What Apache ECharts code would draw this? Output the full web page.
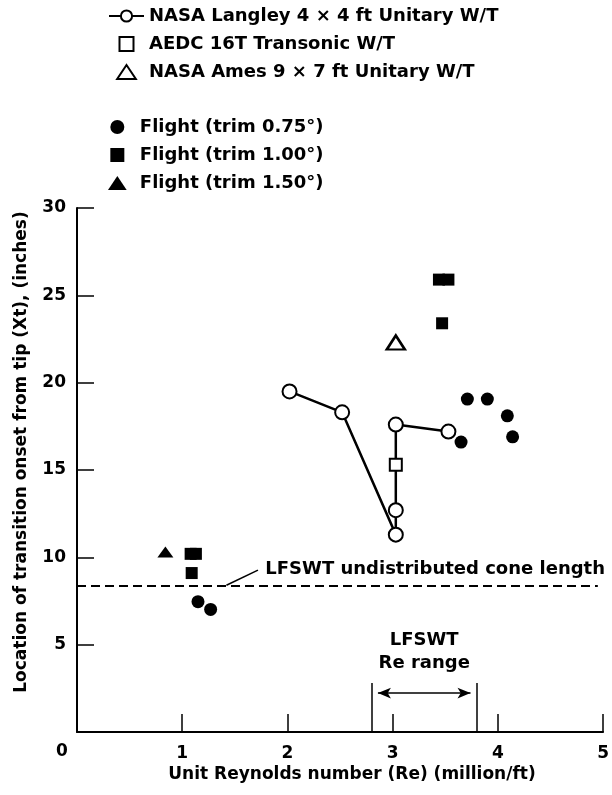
<!DOCTYPE html>
<html>
<head>
<meta charset="utf-8">
<script src="https://cdn.jsdelivr.net/npm/echarts@6/dist/echarts.min.js"></script>
<style>
  html, body { margin: 0; padding: 0; background: #fff; }
  #chart { width: 612px; height: 795px; }
</style>
</head>
<body>
<div id="chart"></div>
<script>
// data: [Re (million/ft), Xt (inches)]
const langley = [[2.02, 19.5], [2.52, 18.3], [3.03, 11.3], [3.03, 12.7], [3.03, 17.6], [3.53, 17.2]];
const aedc = [[3.03, 15.3]];
const ames = [[3.03, 22.3]];
const flight075 = [[3.71, 19.06], [3.90, 19.06], [4.09, 18.1], [4.14, 16.9], [3.65, 16.6], [1.15, 7.46], [1.27, 7.02]];
const flight100 = [[3.44, 25.9], [3.53, 25.9], [3.47, 23.4], [1.08, 10.2], [1.13, 10.2], [1.09, 9.1]];
const flight150 = [[0.84, 10.3]];

const coneLength = 8.4;      // LFSWT undistributed cone length
const coneLineEnd = 4.95;
const reRange = [2.8, 3.8];  // LFSWT Re range
const reRangeTop = 2.8;
const reArrowY = 2.23;

const xTicks = [0, 1, 2, 3, 4, 5];
const yTicks = [0, 5, 10, 15, 20, 25, 30];

const names = {
  langley: 'NASA Langley 4 \u00d7 4 ft Unitary W/T',
  aedc: 'AEDC 16T Transonic W/T',
  ames: 'NASA Ames 9 \u00d7 7 ft Unitary W/T',
  f075: 'Flight (trim 0.75\u00b0)',
  f100: 'Flight (trim 1.00\u00b0)',
  f150: 'Flight (trim 1.50\u00b0)'
};

const FONT = 'DejaVu Sans';
const black = '#000';

const squarePath = 'path://M0,0L10,0L10,10L0,10Z';
const trianglePath = 'path://M6,0L12,9L0,9Z';

const chart = echarts.init(document.getElementById('chart'));

const legendText = { fontFamily: FONT, fontWeight: 'bold', fontSize: 18, color: black, lineHeight: 20 };

const option = {
  animation: false,
  backgroundColor: '#fff',
  grid: { left: 77, right: 4, top: 208, bottom: 63, containLabel: false },
  legend: [
    {
      orient: 'vertical', left: 108, top: 6, padding: 0, itemWidth: 35, itemHeight: 14, itemGap: 8,
      selectedMode: false, textStyle: legendText,
      data: [
        { name: names.langley },
        { name: names.aedc, icon: squarePath, itemStyle: { color: '#fff', borderColor: black, borderWidth: 2 } },
        { name: names.ames, icon: trianglePath, itemStyle: { color: '#fff', borderColor: black, borderWidth: 2 } }
      ]
    },
    {
      orient: 'vertical', left: 108, top: 117, padding: 0, itemWidth: 35, itemHeight: 14, itemGap: 8,
      selectedMode: false, textStyle: legendText,
      data: [
        { name: names.f075, icon: 'circle', itemStyle: { color: black, borderWidth: 0 } },
        { name: names.f100, icon: squarePath, itemStyle: { color: black, borderWidth: 0 } },
        { name: names.f150, icon: trianglePath, itemStyle: { color: black, borderWidth: 0 } }
      ]
    }
  ],
  xAxis: {
    type: 'value', min: xTicks[0], max: xTicks[xTicks.length - 1], interval: 1,
    axisLine: { lineStyle: { color: black, width: 2 } },
    axisTick: { inside: true, length: 18, lineStyle: { color: black, width: 1.5 } },
    splitLine: { show: false },
    axisLabel: {
      margin: 13, color: black, fontFamily: FONT, fontWeight: 'bold', fontSize: 17,
      formatter: v => (v === 0 ? '' : String(v))
    }
  },
  yAxis: {
    type: 'value', min: yTicks[0], max: yTicks[yTicks.length - 1], interval: 5,
    axisLine: { lineStyle: { color: black, width: 2 } },
    axisTick: { inside: true, length: 17, lineStyle: { color: black, width: 1.5 } },
    splitLine: { show: false },
    axisLabel: {
      margin: 11, color: black, fontFamily: FONT, fontWeight: 'bold', fontSize: 17,
      formatter: v => (v === 0 ? '' : String(v))
    }
  },
  graphic: [
    { type: 'text', x: 62, y: 752, silent: true,
      style: { text: '0', fill: black, font: 'bold 17px "DejaVu Sans"', align: 'center', verticalAlign: 'middle' } },
    { type: 'text', x: 22, y: 452, rotation: Math.PI / 2, silent: true,
      style: { text: 'Location of transition onset from tip (Xt), (inches)', fill: black,
               font: 'bold 17px "DejaVu Sans"', align: 'center', verticalAlign: 'middle' } },
    { type: 'text', x: 352, y: 775, silent: true,
      style: { text: 'Unit Reynolds number (Re) (million/ft)', fill: black,
               font: 'bold 17px "DejaVu Sans"', align: 'center', verticalAlign: 'middle' } }
  ],
  series: [
    {
      name: 'notes', type: 'scatter', symbolSize: 0, silent: true, z: 1,
      itemStyle: { opacity: 1 },
      label: { show: true, color: black, fontFamily: FONT, fontWeight: 'bold', fontSize: 18,
               textBorderWidth: 0, formatter: '{b}' },
      data: [
        { name: 'LFSWT undistributed cone length', value: [1.79, 9.3], label: { position: 'right', distance: 0 } },
        { name: 'LFSWT', value: [3.3, 5.27], label: { position: 'inside' } },
        { name: 'Re range', value: [3.3, 3.95], label: { position: 'inside' } }
      ],
      markLine: {
        silent: true, animation: false, symbol: 'none',
        label: { show: false },
        lineStyle: { color: black, width: 1.5, type: 'solid', opacity: 1 },
        emphasis: { disabled: true },
        data: [
          [{ coord: [0, coneLength], lineStyle: { type: [9, 5], width: 2 } }, { coord: [coneLineEnd, coneLength] }],
          [{ coord: [1.42, coneLength] }, { coord: [1.72, 9.27] }],
          [{ coord: [reRange[0], 0] }, { coord: [reRange[0], reRangeTop] }],
          [{ coord: [reRange[1], 0] }, { coord: [reRange[1], reRangeTop] }],
          [{ coord: [reRange[0] + 0.06, reArrowY], symbol: 'arrow', symbolSize: [8, 13] },
           { coord: [reRange[1] - 0.06, reArrowY], symbol: 'arrow', symbolSize: [8, 13] }]
        ]
      }
    },
    {
      name: names.langley, type: 'line', data: langley, z: 3,
      symbol: 'circle', symbolSize: 14, showSymbol: true,
      lineStyle: { color: black, width: 2.5 },
      itemStyle: { color: '#fff', borderColor: black, borderWidth: 2 },
      emphasis: { disabled: true }
    },
    {
      name: names.aedc, type: 'scatter', data: aedc, z: 4,
      symbol: 'rect', symbolSize: 12,
      itemStyle: { color: '#fff', borderColor: black, borderWidth: 2, opacity: 1 },
      emphasis: { disabled: true }
    },
    {
      name: names.ames, type: 'scatter', data: ames, z: 4,
      symbol: 'triangle', symbolSize: [18, 14],
      itemStyle: { color: '#fff', borderColor: black, borderWidth: 2.5, opacity: 1 },
      emphasis: { disabled: true }
    },
    {
      name: names.f075, type: 'scatter', data: flight075, z: 4,
      symbol: 'circle', symbolSize: 13,
      itemStyle: { color: black, opacity: 1 },
      emphasis: { disabled: true }
    },
    {
      name: names.f100, type: 'scatter', data: flight100, z: 4,
      symbol: 'rect', symbolSize: 12,
      itemStyle: { color: black, opacity: 1 },
      emphasis: { disabled: true }
    },
    {
      name: names.f150, type: 'scatter', data: flight150, z: 4,
      symbol: 'triangle', symbolSize: [16, 11],
      itemStyle: { color: black, opacity: 1 },
      emphasis: { disabled: true }
    }
  ]
};

chart.setOption(option);
</script>
</body>
</html>
